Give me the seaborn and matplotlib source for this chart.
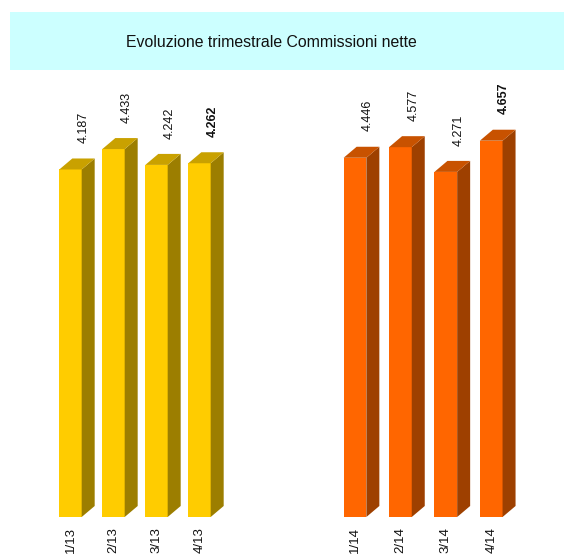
import matplotlib
matplotlib.use("Agg")
import matplotlib.pyplot as plt
from matplotlib.patches import Polygon, Rectangle
from matplotlib.transforms import IdentityTransform
import seaborn as sns

sns.set_theme(style="white")
plt.rcParams["font.family"] = ["Liberation Sans", "DejaVu Sans"]

# Quarterly net commissions
quarters_2013 = ["1/13", "2/13", "3/13", "4/13"]
values_2013 = [4.187, 4.433, 4.242, 4.262]
labels_2013 = ["4.187", "4.433", "4.242", "4.262"]

quarters_2014 = ["1/14", "2/14", "3/14", "4/14"]
values_2014 = [4.446, 4.577, 4.271, 4.657]
labels_2014 = ["4.446", "4.577", "4.271", "4.657"]

title = "Evoluzione trimestrale Commissioni nette"

W, H, DPI = 564, 557, 100
fig = plt.figure(figsize=(W / DPI, H / DPI), dpi=DPI)
fig.patch.set_facecolor("white")

# Title banner
fig.add_artist(Rectangle((9.5 / W, 1 - 70 / H), 1 - 9.5 / W, 58.5 / H,
                         transform=fig.transFigure, facecolor="#CCFFFF",
                         edgecolor="none"))
fig.text(271.5 / W, 1 - 42.5 / H, title, ha="center", va="center",
         fontsize=11.4, color="#111111")

DEPTH_X, DEPTH_Y = 13, 11  # pixel offset of the 3D extrusion
BASE_Y = 517               # baseline, pixels from top
TOP_Y = 100                # axes top, pixels from top


def bar_panel(first_center_px, spacing_px, px_per_unit, width, cats, vals,
              labels, front, side, top):
    x0, x1 = -0.6, 3.6
    left = first_center_px + x0 * spacing_px
    ax = fig.add_axes([left / W, 1 - BASE_Y / H,
                       (x1 - x0) * spacing_px / W, (BASE_Y - TOP_Y) / H])
    sns.barplot(x=cats, y=vals, color=front, saturation=1, width=width,
                linewidth=0, ax=ax)
    ax.set_xlim(x0, x1)
    ax.set_ylim(0, (BASE_Y - TOP_Y) / px_per_unit)
    ax.set_facecolor("none")
    for s in ax.spines.values():
        s.set_visible(False)
    ax.set_yticks([])
    ax.set_xlabel("")
    ax.set_ylabel("")
    ax.tick_params(axis="x", length=0, pad=7.0)
    for t in ax.get_xticklabels():
        t.set_rotation(90)
        t.set_fontsize(9.5)
        t.set_color("#111111")
        t.set_va("top")

    idt = IdentityTransform()
    for i, p in enumerate(ax.patches):
        bx, bw, bh = p.get_x(), p.get_width(), p.get_height()
        (xl, yb), (xr, yt) = ax.transData.transform([(bx, 0), (bx + bw, bh)])
        side_poly = [(xr, yb), (xr + DEPTH_X, yb + DEPTH_Y),
                     (xr + DEPTH_X, yt + DEPTH_Y), (xr, yt)]
        top_poly = [(xl, yt), (xl + DEPTH_X, yt + DEPTH_Y),
                    (xr + DEPTH_X, yt + DEPTH_Y), (xr, yt)]
        ax.add_patch(Polygon(side_poly, closed=True, transform=idt,
                             facecolor=side, edgecolor="none", clip_on=False))
        ax.add_patch(Polygon(top_poly, closed=True, transform=idt,
                             facecolor=top, edgecolor="none", clip_on=False))
        ax.annotate(labels[i], xy=(bx + bw / 2, vals[i]),
                    xytext=(13, 42), textcoords="offset pixels",
                    rotation=90, ha="center", va="center", fontsize=9,
                    color="#111111",
                    fontweight="bold" if i == len(vals) - 1 else "normal")
    return ax


bar_panel(70.5, 43.0, 83.0, 0.52, quarters_2013, values_2013, labels_2013,
          "#FFCC00", "#9C7E00", "#C9A100")
bar_panel(355.0, 45.4, 80.8, 0.50, quarters_2014, values_2014, labels_2014,
          "#FF6600", "#9E4000", "#C85200")

fig.savefig("out.png", dpi=DPI)
